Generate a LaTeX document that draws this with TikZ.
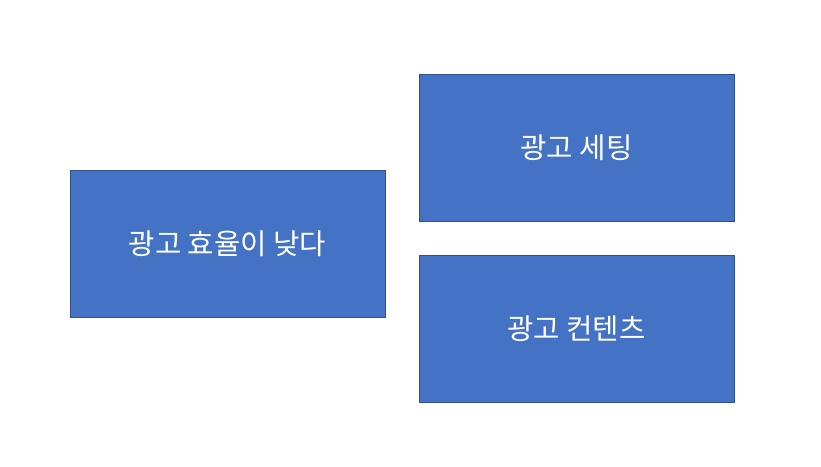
\documentclass[tikz,border=0pt]{standalone}
\usepackage{fontspec}
\newfontfamily\cjk{Noto Sans CJK KR}
\usepackage{tikz}
\definecolor{boxfill}{HTML}{4472C4}
\definecolor{boxline}{HTML}{2F528F}
\begin{document}
\begin{tikzpicture}[x=0.75pt, y=-0.75pt,
    box/.style={draw=boxline, line width=0.75pt, fill=boxfill, text=white,
      minimum width=236.25pt, minimum height=110.25pt, inner sep=0pt,
      font=\cjk\fontsize{21.5}{26}\selectfont}]
    \useasboundingbox (0,0) rectangle (821,467);
    \node[box] (low) at (227.5, 243.5){광고 효율이 낮다};
    \node[box] (setting) at (576.5, 148){광고 세팅};
    \node[box] (content) at (576.5, 328.5){광고 컨텐츠};
  \end{tikzpicture}
\end{document}
